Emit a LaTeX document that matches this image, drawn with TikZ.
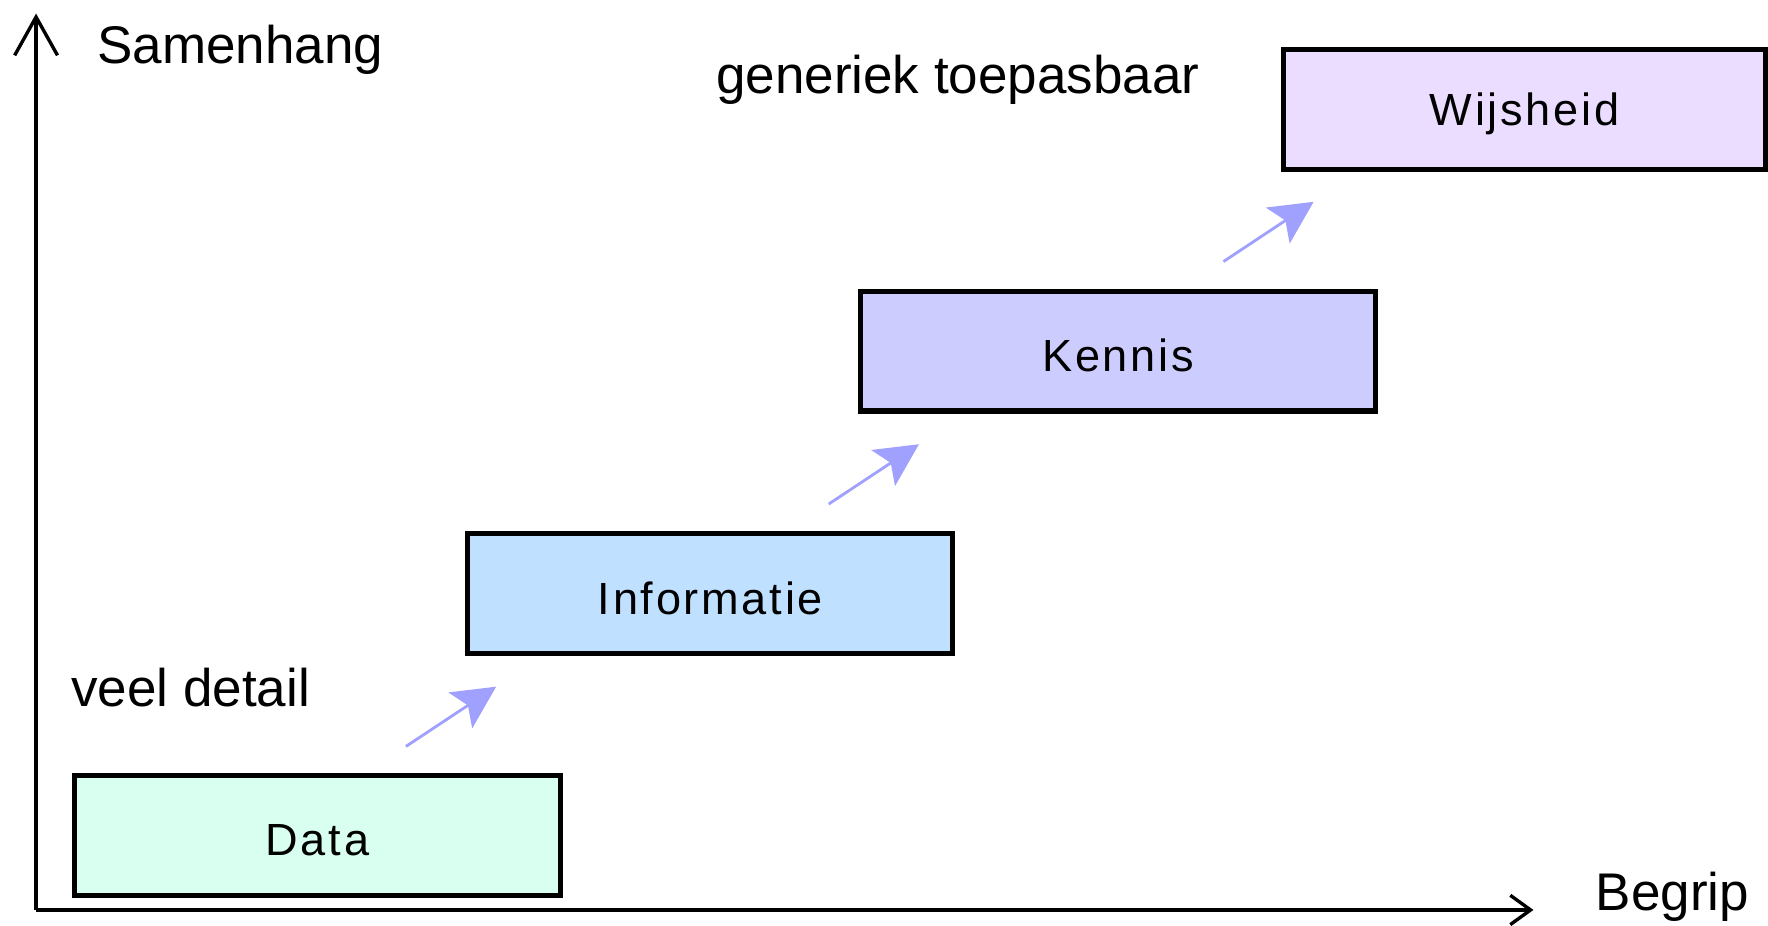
\documentclass[tikz,border=0pt]{standalone}
\usepackage{fontspec}
\setmainfont{Liberation Sans}
\usetikzlibrary{arrows.meta}
\definecolor{cdata}{HTML}{D8FFF0}
\definecolor{cinfo}{HTML}{C0E0FF}
\definecolor{cken}{HTML}{CCCCFF}
\definecolor{cwijs}{HTML}{EADDFF}
\definecolor{carrow}{HTML}{A0A0FF}
\newcommand{\boxtext}[1]{\raisebox{-4pt}[\height][\depth]{#1}}
\tikzset{
  level/.style={draw=black, line width=4.5pt, minimum width=#1, minimum height=106pt, inner sep=0pt, font=\fontsize{40}{44}\selectfont\addfontfeature{LetterSpace=6}},
  lbl/.style={inner sep=0pt, font=\fontsize{47}{52}\selectfont, anchor=west},
  stepar/.style={draw=carrow, line width=2.5pt, -{Stealth[length=38pt,width=38pt,inset=8pt]}},
  axis/.style={line width=4pt}
}
\begin{document}
\begin{tikzpicture}[x=1pt,y=-1pt]
\useasboundingbox (0,0) rectangle (1568,821);
% axes
\coordinate (O) at (32,807);
\coordinate (ytop) at (32,12);
\coordinate (xend) at (1360,807);
\draw[axis, -{Straight Barb[length=34pt,width=38pt,line width=3pt]}] (O) -- (ytop);
\draw[axis, -{Straight Barb[length=18pt,width=26pt,line width=3pt]}] (O) -- (xend);
% boxes
\node[level=431pt, fill=cdata] (data) at (281.5,741) {\boxtext{Data}};
\node[level=430pt, fill=cinfo] (info) at (630,526.5) {\boxtext{Informatie}};
\node[level=457pt, fill=cken] (ken) at (991.5,311.5) {\boxtext{Kennis}};
\node[level=428pt, fill=cwijs] (wijs) at (1352,97) {\boxtext{Wijsheid}};
% labels
\node[lbl] (samen) at (86,44) {Samenhang};
\node[lbl] (gen) at (635,71) {generiek toepasbaar};
\node[lbl] (veel) at (63,610) {veel detail};
\node[lbl] (begrip) at (1415,795) {Begrip};
% step arrows
\coordinate (a1) at (360,662); \coordinate (b1) at (440,609);
\coordinate (a2) at (735,447); \coordinate (b2) at (815,394);
\coordinate (a3) at (1085,232); \coordinate (b3) at (1165,179);
\draw[stepar] (a1) -- (b1);
\draw[stepar] (a2) -- (b2);
\draw[stepar] (a3) -- (b3);
\end{tikzpicture}
\end{document}
